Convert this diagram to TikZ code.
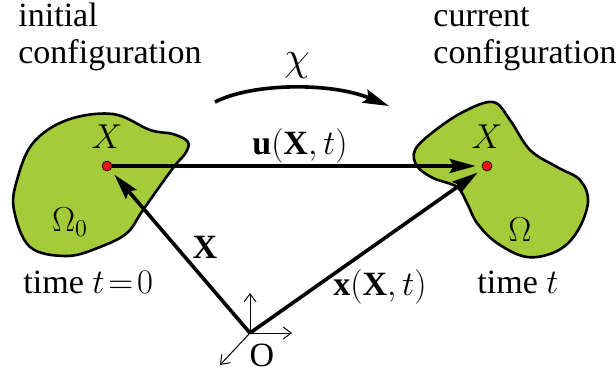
\documentclass[tikz,border=0pt]{standalone}
\usepackage{amsmath}
\usepackage{fontspec}
\setmainfont{Liberation Serif}
\usetikzlibrary{arrows.meta,positioning}
\definecolor{bodygreen}{RGB}{164,204,58}
\definecolor{ptred}{RGB}{230,20,20}
\tikzset{
  txt/.style={font=\fontsize{17}{18.5}\selectfont, inner sep=0pt},
  blob/.style={draw=black, fill=bodygreen, line width=1.3pt},
  ptdot/.style={circle, fill=ptred, draw=black, line width=0.3pt, inner sep=0pt, minimum size=5pt},
  vec/.style={-{Stealth[length=13pt, width=7pt, inset=2pt]}, line width=1.8pt, shorten >=3pt},
  ax/.style={-{Straight Barb[length=4pt, width=6pt]}, line width=0.5pt},
}
\begin{document}
\begin{tikzpicture}[x=0.5pt, y=-0.5pt]
\useasboundingbox (0,0) rectangle (616,371);
% bodies
\draw[blob] plot[smooth cycle, tension=0.6] coordinates {
  (113,114) (150,130) (173,134) (188,142) (185,154) (173,168) (143,210)
  (127,233) (100,247) (67,256) (30,247) (14,210) (17,180) (33,143) (67,120)};
\draw[blob] plot[smooth cycle, tension=0.6] coordinates {
  (493,102) (510,120) (530,150) (557,167) (580,180) (588,202) (577,232)
  (557,251) (527,257) (497,243) (477,223) (467,203) (457,187) (433,178)
  (417,166) (415,150) (433,132) (463,112)};
% points
\node[ptdot] (P0) at (107,166) {};
\node[ptdot] (P) at (487,166) {};
\coordinate (O) at (250,333);
\node[txt, above=6pt of P0] (lX0) {$X$};
\node[txt, above=6pt of P] (lX) {$X$};
\node[txt] (om0) at (70,222) {$\Omega_0$};
\node[txt] (om) at (520,230) {$\Omega$};
% headings
\node[txt, anchor=base west, align=left] (init) at (18,63) {initial\\configuration};
\node[txt, anchor=base west, align=left] (curr) at (433,63) {current\\configuration};
\node[txt, anchor=base west] (t0) at (23,293) {time $t\!=\!0$};
\node[txt, anchor=base west] (t1) at (477,293) {time $t$};
% motion
\coordinate (m1) at (215,102);
\coordinate (m2) at (389,106);
\draw[vec, shorten >=0pt] (m1) .. controls (252,83) and (330,82) .. (m2);
\node[txt, font=\fontsize{22}{24}\selectfont] (chi) at (297,66) {$\chi$};
% vectors
\draw[vec] (P0) -- (P);
\node[txt] (lu) at (300,146) {$\mathbf{u}(\mathbf{X},t)$};
\draw[vec] (O) -- (P0);
\draw[vec] (O) -- (P);
\node[txt] (lXv) at (205,247) {$\mathbf{X}$};
\node[txt] (lxv) at (380,287) {$\mathbf{x}(\mathbf{X},t)$};
% frame
\draw[ax] (O) -- ++(0,-40);
\draw[ax] (O) -- ++(42,0);
\draw[ax] (O) -- ++(-30,32);
\node[txt] (lO) at (262,355) {O};
\end{tikzpicture}
\end{document}
